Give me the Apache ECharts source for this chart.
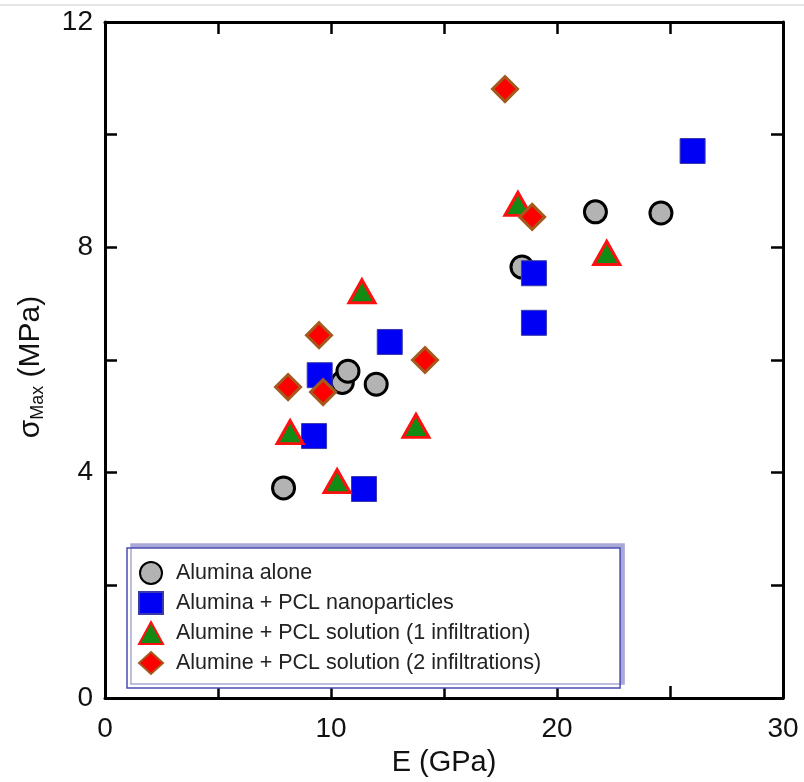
<!DOCTYPE html>
<html>
<head>
<meta charset="utf-8">
<script src="https://cdn.jsdelivr.net/npm/echarts@6/dist/echarts.min.js"></script>
<style>
  html, body { margin: 0; padding: 0; background: #fff; }
  #chart { width: 804px; height: 782px; }
</style>
</head>
<body>
<div id="chart"></div>
<script>
const chart = echarts.init(document.getElementById('chart'))

// E (GPa), sigma max (MPa)
const aluminaAlone = [[7.9, 3.73], [10.5, 5.6], [10.75, 5.8], [12.0, 5.57], [18.45, 7.65], [21.7, 8.63], [24.6, 8.61]]
const aluminaNano = [[9.5, 5.73], [12.6, 6.32], [9.25, 4.65], [11.46, 3.71], [26.0, 9.71], [18.98, 7.54], [18.98, 6.66]]
const solution1 = [[11.37, 7.22], [8.19, 4.72], [13.76, 4.83], [10.27, 3.85], [18.27, 8.77], [22.2, 7.9]]
const solution2 = [[9.47, 6.44], [14.16, 6.0], [8.1, 5.52], [9.65, 5.43], [17.7, 10.81], [18.9, 8.54]]

const seriesNames = [
  'Alumina alone',
  'Alumina + PCL nanoparticles',
  'Alumine + PCL solution (1 infiltration)',
  'Alumine + PCL solution (2 infiltrations)'
]

const xTickLabels = [0, 10, 20, 30]
const yTickLabels = [0, 4, 8, 12]

const font = 'Liberation Sans, Arial, sans-serif'

const axisBase = {
  axisLine: { show: true, onZero: false, lineStyle: { color: '#000', width: 3 } },
  axisTick: { show: true, inside: true, length: 12, lineStyle: { color: '#000', width: 2.5 } },
  splitLine: { show: false }
}

const options = {
  animation: false,
  backgroundColor: '#fff',
  textStyle: { fontFamily: font },
  graphic: [
    {
      type: 'line',
      shape: { x1: 0, y1: 5, x2: 804, y2: 5 },
      style: { stroke: '#dcdcdc', lineWidth: 1.5 }
    }
  ],
  grid: { left: 105, top: 22, right: 21, bottom: 84 },
  legend: {
    orient: 'vertical',
    left: 127,
    top: 548,
    padding: [13, 79, 13, 11],
    itemWidth: 24,
    itemHeight: 22,
    itemGap: 6,
    backgroundColor: '#fff',
    borderColor: '#4b4bb0',
    borderWidth: 1.5,
    borderRadius: 0,
    shadowColor: '#a9a9d8',
    shadowBlur: 0,
    shadowOffsetX: 4,
    shadowOffsetY: -4,
    textStyle: { fontSize: 21.5, lineHeight: 22, color: '#222', fontFamily: font, padding: [0, 0, 0, 8] },
    data: seriesNames
  },
  xAxis: [
    Object.assign({}, axisBase, {
      type: 'value',
      min: 0,
      max: 30,
      interval: 5,
      position: 'bottom',
      name: 'E (GPa)',
      nameLocation: 'middle',
      nameGap: 50,
      nameTextStyle: { fontSize: 29, color: '#111', fontFamily: font },
      axisLabel: {
        margin: 17,
        fontSize: 28,
        color: '#111',
        fontFamily: font,
        formatter: v => (xTickLabels.includes(v) ? String(v) : '')
      }
    }),
    Object.assign({}, axisBase, {
      type: 'value',
      min: 0,
      max: 30,
      interval: 5,
      position: 'top',
      axisLabel: { show: false }
    })
  ],
  yAxis: [
    Object.assign({}, axisBase, {
      type: 'value',
      min: 0,
      max: 12,
      interval: 2,
      position: 'left',
      name: '{a|σ}{sub|Max}{a| (MPa)}',
      nameLocation: 'middle',
      nameGap: 58,
      nameRotate: 90,
      nameTextStyle: {
        color: '#111',
        fontFamily: font,
        padding: [0, 14, 0, 0],
        rich: {
          a: { fontSize: 30, color: '#111', fontFamily: font, lineHeight: 32 },
          sub: { fontSize: 18, color: '#111', fontFamily: font, lineHeight: 32, verticalAlign: 'bottom', padding: [12, 0, 0, 0] }
        }
      },
      axisLabel: {
        margin: 12,
        fontSize: 28,
        color: '#111',
        fontFamily: font,
        formatter: v => (yTickLabels.includes(v) ? String(v) : '')
      }
    }),
    Object.assign({}, axisBase, {
      type: 'value',
      min: 0,
      max: 12,
      interval: 2,
      position: 'right',
      axisLabel: { show: false }
    })
  ],
  series: [
    {
      name: seriesNames[0],
      type: 'scatter',
      data: aluminaAlone,
      symbol: 'circle',
      symbolSize: 22,
      symbolKeepAspect: true,
      itemStyle: { color: '#b3b3b3', borderColor: '#000', borderWidth: 3, opacity: 1 }
    },
    {
      name: seriesNames[1],
      type: 'scatter',
      data: aluminaNano,
      symbol: 'rect',
      symbolSize: 25,
      symbolKeepAspect: true,
      itemStyle: { color: '#0000f5', borderColor: '#3a3aa8', borderWidth: 1, opacity: 1 }
    },
    {
      name: seriesNames[2],
      type: 'scatter',
      data: solution1,
      symbol: 'triangle',
      symbolSize: [26, 23],
      symbolKeepAspect: true,
      itemStyle: { color: '#138a13', borderColor: '#ff1010', borderWidth: 3, opacity: 1 }
    },
    {
      name: seriesNames[3],
      type: 'scatter',
      data: solution2,
      symbol: 'diamond',
      symbolSize: 25,
      symbolKeepAspect: true,
      itemStyle: { color: '#ff0000', borderColor: '#a35a1c', borderWidth: 3, opacity: 1 }
    }
  ]
}
chart.setOption(options)
</script>
</body>
</html>
